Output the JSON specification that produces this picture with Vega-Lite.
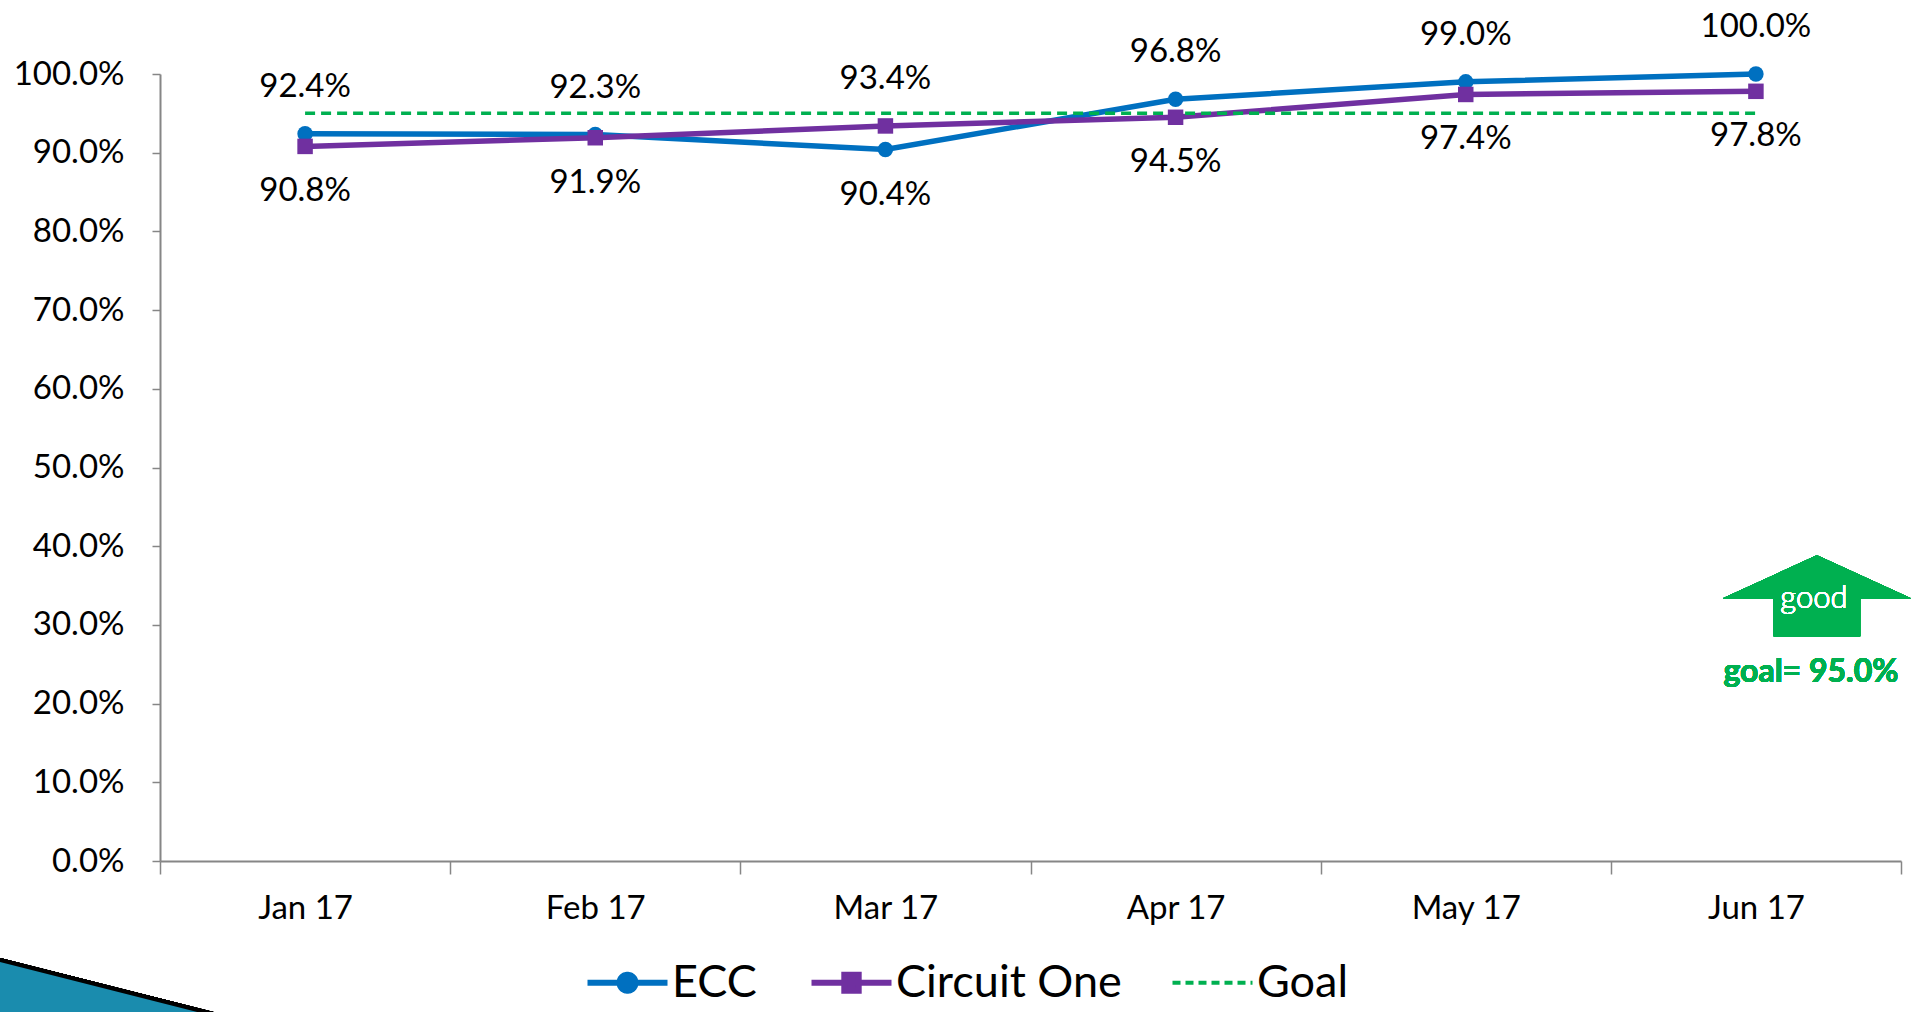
{
  "$schema": "https://vega.github.io/schema/vega-lite/v6.json",
  "width": 1741,
  "height": 787,
  "autosize": {"type": "none"},
  "padding": {"left": 160, "top": 74, "right": 19, "bottom": 151},
  "background": "white",
  "config": {"view": {"stroke": null}, "font": "Lato"},
  "data": {
    "values": [
      {"month": "Jan 17", "series": "ECC", "value": 0.924},
      {"month": "Feb 17", "series": "ECC", "value": 0.923},
      {"month": "Mar 17", "series": "ECC", "value": 0.904},
      {"month": "Apr 17", "series": "ECC", "value": 0.968},
      {"month": "May 17", "series": "ECC", "value": 0.990},
      {"month": "Jun 17", "series": "ECC", "value": 1.000},
      {"month": "Jan 17", "series": "Circuit One", "value": 0.908},
      {"month": "Feb 17", "series": "Circuit One", "value": 0.919},
      {"month": "Mar 17", "series": "Circuit One", "value": 0.934},
      {"month": "Apr 17", "series": "Circuit One", "value": 0.945},
      {"month": "May 17", "series": "Circuit One", "value": 0.974},
      {"month": "Jun 17", "series": "Circuit One", "value": 0.978},
      {"month": "Jan 17", "series": "Goal", "value": 0.95},
      {"month": "Feb 17", "series": "Goal", "value": 0.95},
      {"month": "Mar 17", "series": "Goal", "value": 0.95},
      {"month": "Apr 17", "series": "Goal", "value": 0.95},
      {"month": "May 17", "series": "Goal", "value": 0.95},
      {"month": "Jun 17", "series": "Goal", "value": 0.95}
    ]
  },
  "encoding": {
    "x": {
      "field": "month", "type": "nominal", "sort": null,
      "scale": {"paddingInner": 0, "paddingOuter": 0},
      "axis": {"title": null, "labelAngle": 0, "labelFont": "Lato", "labelFontSize": 33, "labelColor": "black",
               "domainColor": "#868686", "domainWidth": 2, "tickColor": "#868686", "tickWidth": 1.5,
               "tickSize": 13, "tickBand": "extent", "labelPadding": 18}
    },
    "y": {
      "field": "value", "type": "quantitative",
      "scale": {"domain": [0, 1], "nice": false, "zero": true},
      "axis": {"title": null, "format": ".1%", "values": [0, 0.1, 0.2, 0.3, 0.4, 0.5, 0.6, 0.7, 0.8, 0.9, 1.0],
               "grid": false, "labelFont": "Lato", "labelFontSize": 33, "labelColor": "black",
               "domainColor": "#868686", "domainWidth": 2, "tickColor": "#868686", "tickWidth": 1.5,
               "tickSize": 8, "labelPadding": 28}
    }
  },
  "layer": [
    {
      "mark": {"type": "point", "shape": "M-1.2,-0.31L1.25,0.31L-1.2,0.31Z", "size": 40000, "filled": true,
               "fill": "#1A8CAE", "stroke": "black", "strokeWidth": 4, "opacity": 1, "xOffset": -205, "yOffset": 125},
      "encoding": {"x": {"datum": "Jan 17"}, "y": {"datum": 0}}
    },
    {
      "transform": [{"filter": "datum.series != 'Goal'"}],
      "mark": {"type": "line", "strokeWidth": 5.5},
      "encoding": {
        "color": {
          "field": "series", "type": "nominal",
          "scale": {"domain": ["ECC", "Circuit One", "Goal"], "range": ["#0070C0", "#7030A0", "#00B050"]},
          "legend": {
            "orient": "none", "legendX": 445, "legendY": 886, "direction": "horizontal", "title": null,
            "labelFont": "Lato", "labelFontSize": 45, "labelColor": "black", "labelLimit": 600, "symbolSize": 6400,
            "columnPadding": 42, "labelOffset": 22, "symbolStrokeWidth": 5,
            "encode": {
              "symbols": {
                "update": {
                  "shape": {"signal": "datum.value == 'ECC' ? 'M-1,0L1,0M-0.2,0A0.2,0.2 0 1,0 0.2,0A0.2,0.2 0 1,0 -0.2,0Z' : datum.value == 'Circuit One' ? 'M-1,0L1,0M-0.18,-0.2H0.18V0.2H-0.18Z' : 'M-1,0L1,0'"},
                  "fill": {"scale": "color", "field": "value"},
                  "stroke": {"scale": "color", "field": "value"},
                  "strokeDash": {"signal": "datum.value == 'Goal' ? [8, 5] : [1, 0]"},
                  "strokeWidth": {"signal": "datum.value == 'Goal' ? 4 : 6"},
                  "opacity": {"value": 1}
                }
              }
            }
          }
        }
      }
    },
    {
      "transform": [{"filter": "datum.series == 'Goal'"}],
      "mark": {"type": "line", "strokeWidth": 3.5, "strokeDash": [10, 6]},
      "encoding": {"color": {"field": "series", "type": "nominal"}}
    },
    {
      "transform": [{"filter": "datum.series != 'Goal'"}],
      "mark": {"type": "point", "filled": true, "opacity": 1, "size": 240},
      "encoding": {
        "color": {"field": "series", "type": "nominal"},
        "shape": {"field": "series", "type": "nominal", "scale": {"domain": ["ECC", "Circuit One"], "range": ["circle", "square"]}, "legend": null}
      }
    },
    {
      "transform": [
        {"filter": "datum.series != 'Goal'"},
        {"joinaggregate": [{"op": "max", "field": "value", "as": "maxv"}], "groupby": ["month"]},
        {"filter": "datum.value == datum.maxv"}
      ],
      "mark": {"type": "text", "font": "Lato", "fontSize": 33, "color": "black", "dy": -47, "baseline": "middle"},
      "encoding": {"text": {"field": "value", "type": "quantitative", "format": ".1%"}}
    },
    {
      "transform": [
        {"filter": "datum.series != 'Goal'"},
        {"joinaggregate": [{"op": "max", "field": "value", "as": "maxv"}], "groupby": ["month"]},
        {"filter": "datum.value < datum.maxv"}
      ],
      "mark": {"type": "text", "font": "Lato", "fontSize": 33, "color": "black", "dy": 45, "baseline": "middle"},
      "encoding": {"text": {"field": "value", "type": "quantitative", "format": ".1%"}}
    },
    {
      "mark": {"type": "point", "shape": "M0,-0.431L1,0.027L0.46,0.027L0.46,0.431L-0.46,0.431L-0.46,0.027L-1,0.027Z",
               "size": 35344, "filled": true, "color": "#00B050", "opacity": 1, "strokeWidth": 0, "xOffset": 61},
      "encoding": {"x": {"datum": "Jun 17"}, "y": {"datum": 0.337}}
    },
    {
      "mark": {"type": "text", "text": "good", "font": "Lato", "fontSize": 31, "fontWeight": 300, "color": "white", "dx": 58, "baseline": "middle"},
      "encoding": {"x": {"datum": "Jun 17"}, "y": {"datum": 0.333}}
    },
    {
      "mark": {"type": "text", "text": "goal= 95.0%", "font": "Lato", "fontSize": 32, "fontWeight": "bold", "color": "#00B050", "dx": 55, "baseline": "middle"},
      "encoding": {"x": {"datum": "Jun 17"}, "y": {"datum": 0.24}}
    }
  ]
}
